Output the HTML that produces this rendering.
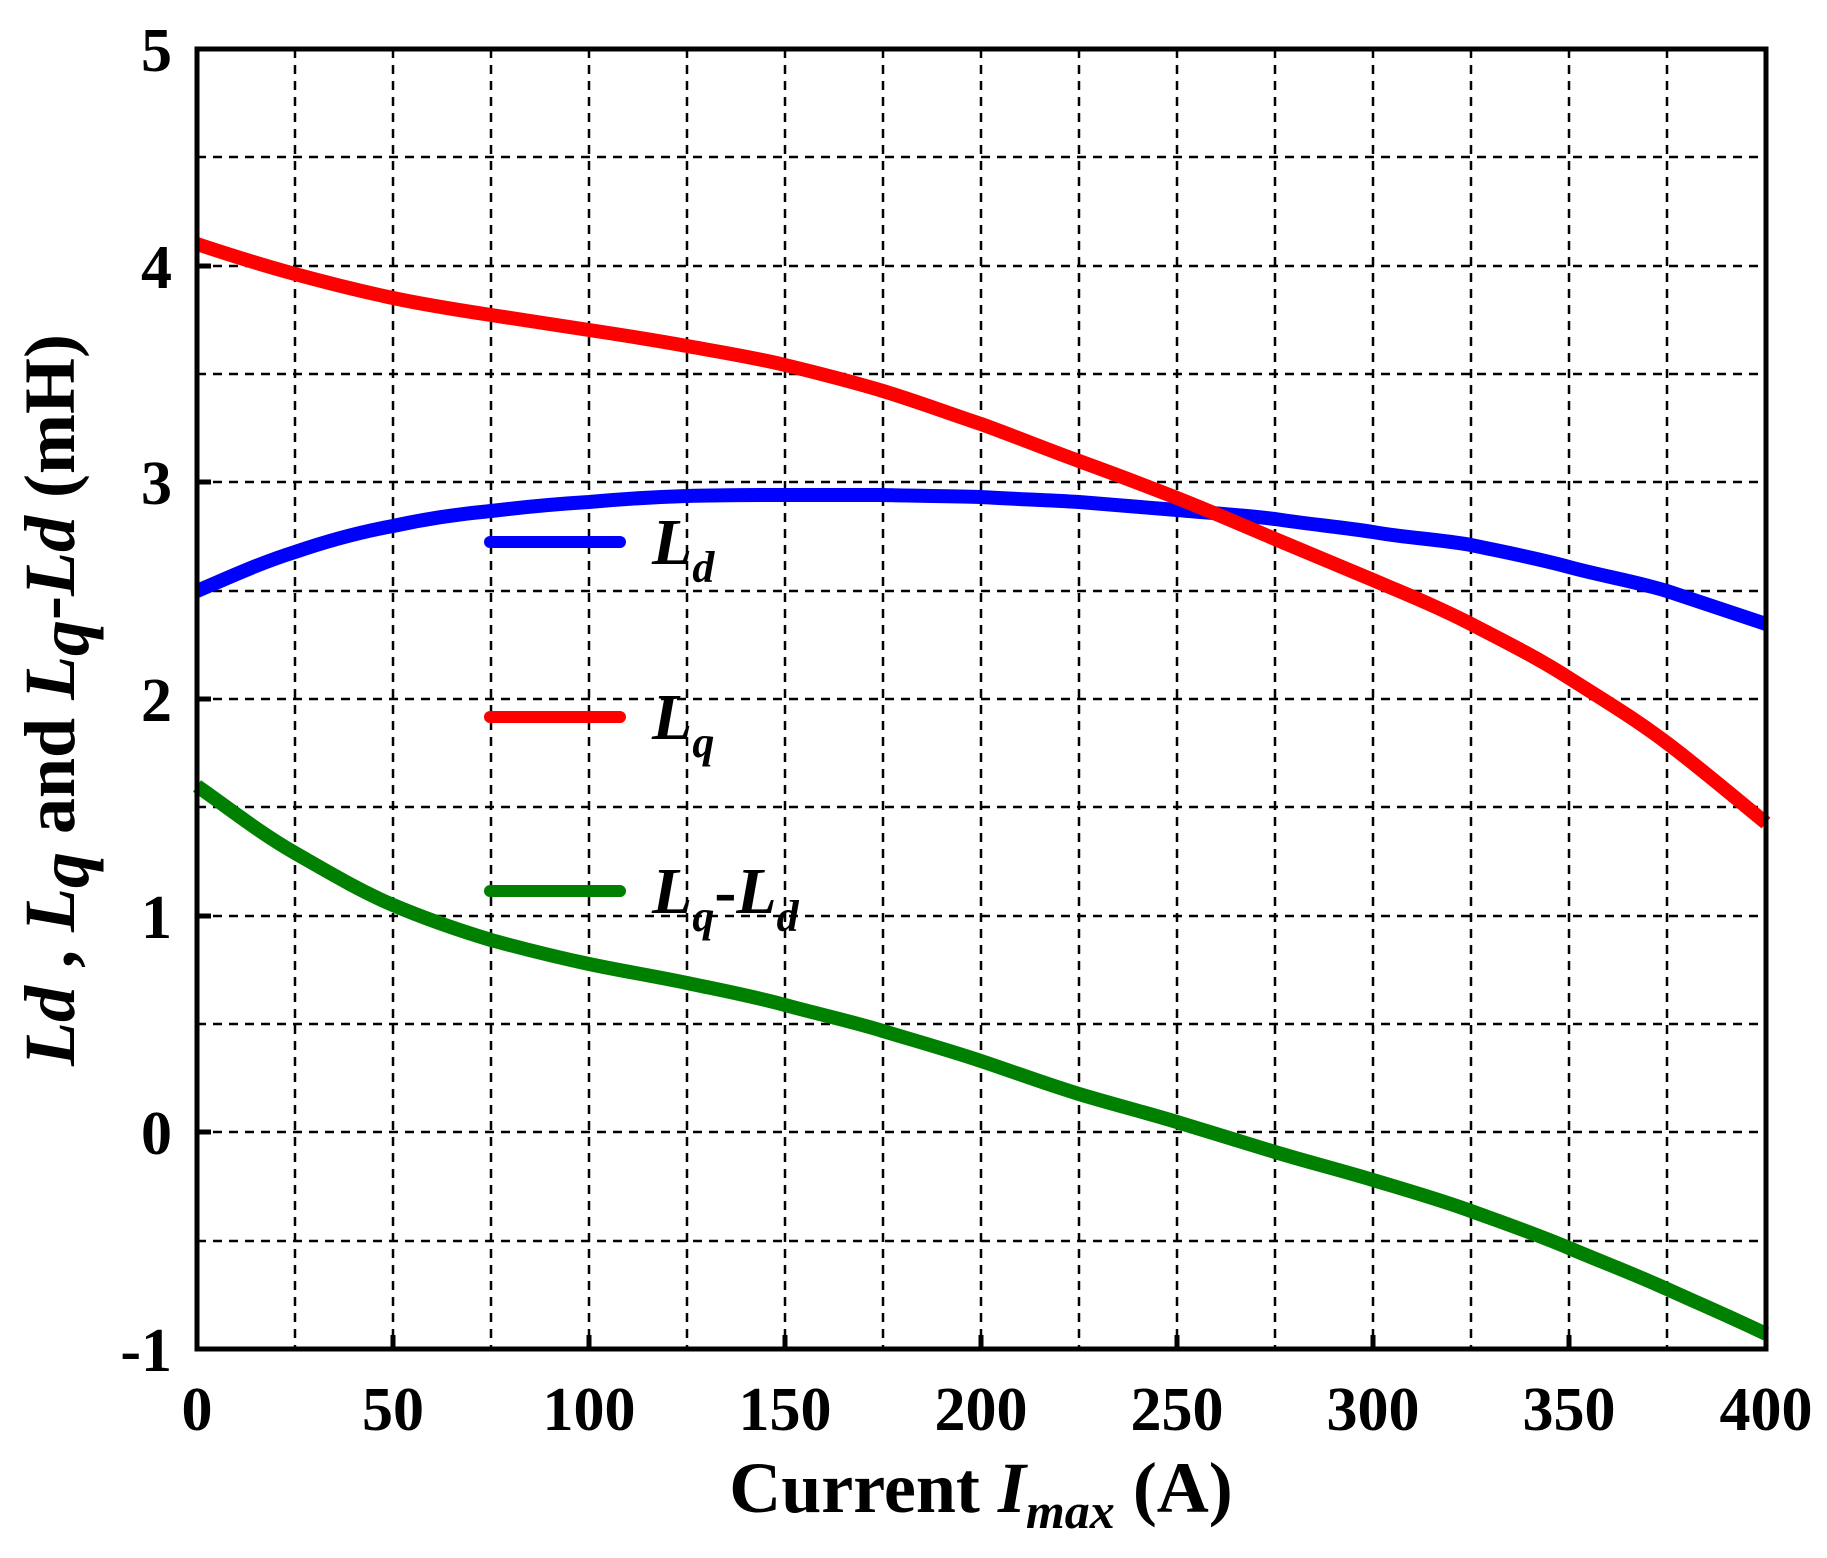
<!DOCTYPE html>
<html><head><style>body{margin:0;background:#fff}</style></head><body>
<svg width="1827" height="1553" xmlns="http://www.w3.org/2000/svg" font-family="Liberation Serif, serif" font-weight="bold">
<rect width="1827" height="1553" fill="#fff"/>
<g stroke="#000" stroke-width="2.5" stroke-dasharray="9,7" fill="none">
<path d="M295 49V1349M393 49V1349M491 49V1349M589 49V1349M687 49V1349M785 49V1349M883 49V1349M981 49V1349M1079 49V1349M1177 49V1349M1275 49V1349M1373 49V1349M1471 49V1349M1569 49V1349M1667 49V1349"/>
<path d="M197 157H1766M197 266H1766M197 374H1766M197 482H1766M197 591H1766M197 699H1766M197 807H1766M197 916H1766M197 1024H1766M197 1132H1766M197 1241H1766"/>
</g>
<g stroke="#000" stroke-width="5" fill="none">
<path d="M197 266h14M197 482h14M197 699h14M197 916h14M197 1132h14"/>
<path d="M393 1349v-14M589 1349v-14M785 1349v-14M981 1349v-14M1177 1349v-14M1373 1349v-14M1569 1349v-14"/>
</g>
<g fill="none" stroke-width="14" stroke-linejoin="round">
<path stroke="#0000ff" d="M197,591 C230,577 260,563 295,552 C330,540 360,532 393,526 C425,519 458,514 491,511 C524,507 556,504 589,502 C622,499 654,497 687,496 C720,495 752,495 785,495 C818,495 850,495 883,495 C916,496 948,496 981,497 C1014,499 1046,500 1079,502 C1112,505 1144,507 1177,510 C1210,513 1242,515 1275,519 C1308,524 1340,527 1373,532 C1406,538 1438,539 1471,545 C1504,552 1536,558 1569,567 C1602,576 1634,581 1667,591 C1700,602 1733,613 1766,624"/>
<path stroke="#ff0000" d="M197,244 C230,255 262,265 295,274 C328,283 360,291 393,298 C426,305 458,310 491,315 C524,320 556,325 589,330 C622,335 654,340 687,346 C720,352 752,357 785,365 C818,373 850,381 883,391 C916,401 948,413 981,424 C1014,436 1046,449 1079,461 C1112,473 1144,485 1177,498 C1210,511 1242,525 1275,539 C1308,553 1340,566 1373,580 C1406,594 1438,607 1471,624 C1504,641 1536,657 1569,678 C1602,699 1634,718 1667,743 C1700,768 1733,796 1766,823"/>
<path stroke="#008000" d="M197,786 C230,809 260,833 295,853 C330,873 360,891 393,905 C426,919 458,930 491,940 C524,949 556,957 589,964 C622,971 654,976 687,983 C720,990 752,996 785,1005 C818,1014 850,1021 883,1031 C916,1041 948,1050 981,1061 C1014,1072 1046,1084 1079,1094 C1112,1104 1144,1112 1177,1122 C1210,1132 1242,1142 1275,1152 C1308,1162 1340,1170 1373,1180 C1406,1190 1438,1199 1471,1211 C1504,1223 1536,1234 1569,1248 C1602,1262 1634,1274 1667,1289 C1700,1304 1733,1318 1766,1334"/>
</g>
<rect x="197" y="49" width="1569" height="1300" fill="none" stroke="#000" stroke-width="5"/>
<g stroke-width="12" stroke-linecap="round">
<line x1="490" y1="542" x2="620" y2="542" stroke="#0000ff"/>
<line x1="490" y1="717" x2="620" y2="717" stroke="#ff0000"/>
<line x1="490" y1="891" x2="620" y2="891" stroke="#008000"/>
</g>
<g font-size="66" font-style="italic">
<text x="652" y="564">L<tspan font-size="44" dy="18">d</tspan></text>
<text x="652" y="739">L<tspan font-size="44" dy="18">q</tspan></text>
<text x="652" y="913">L<tspan font-size="44" dy="18">q</tspan><tspan dy="-18" font-style="normal">-</tspan>L<tspan font-size="44" dy="18">d</tspan></text>
</g>
<g font-size="62" text-anchor="end">
<text x="172" y="71">5</text><text x="172" y="288">4</text><text x="172" y="504">3</text><text x="172" y="721">2</text><text x="172" y="938">1</text><text x="172" y="1154">0</text><text x="172" y="1371">-1</text>
</g>
<g font-size="62" text-anchor="middle">
<text x="197" y="1430">0</text><text x="393" y="1430">50</text><text x="589" y="1430">100</text><text x="785" y="1430">150</text><text x="981" y="1430">200</text><text x="1177" y="1430">250</text><text x="1373" y="1430">300</text><text x="1569" y="1430">350</text><text x="1766" y="1430">400</text>
</g>
<text x="981" y="1512" font-size="72" text-anchor="middle">Current <tspan font-style="italic">I</tspan><tspan font-style="italic" font-size="50" dy="16">max</tspan><tspan dy="-16"> (A)</tspan></text>
<text transform="translate(74,700) rotate(-90)" font-size="72" text-anchor="middle"><tspan font-style="italic">Ld</tspan> , <tspan font-style="italic">L</tspan><tspan font-style="italic" dy="14">q</tspan><tspan dy="-14"> and  </tspan><tspan font-style="italic">L</tspan><tspan font-style="italic" dy="14">q</tspan><tspan dy="-14">-</tspan><tspan font-style="italic">Ld</tspan> (mH)</text>
</svg>
</body></html>
